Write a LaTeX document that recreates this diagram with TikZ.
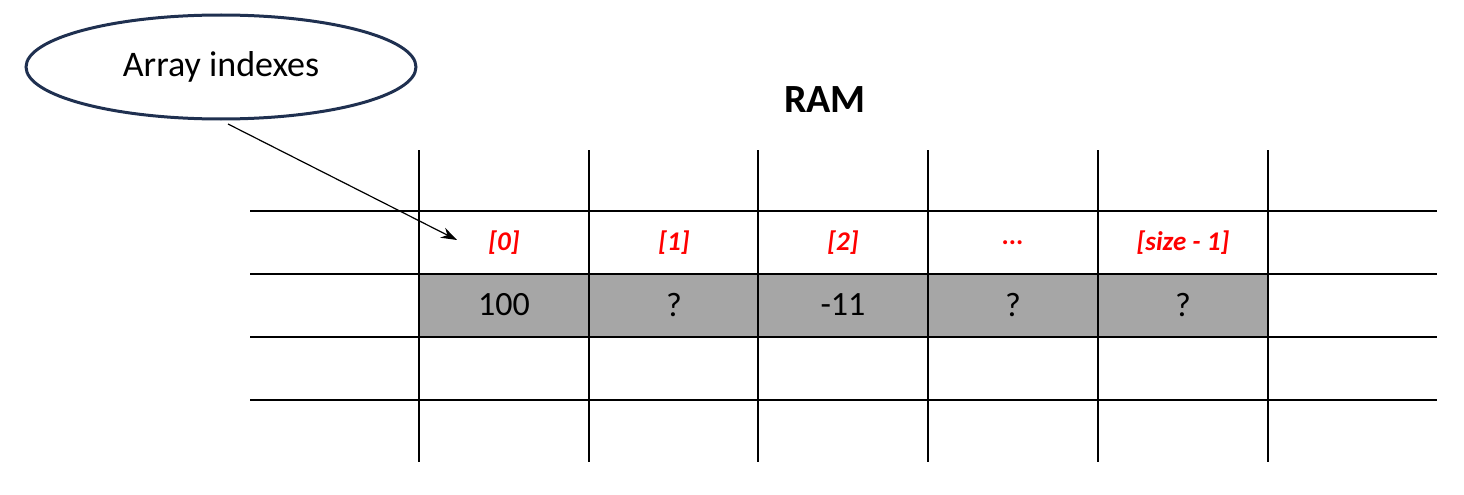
\documentclass[tikz,border=0pt]{standalone}
\usepackage{fontspec}
\setmainfont{Carlito}
\usetikzlibrary{shapes.geometric,arrows.meta}
\definecolor{navy}{HTML}{1F3050}
\definecolor{cellgrey}{HTML}{A6A6A6}
\begin{document}
\begin{tikzpicture}[x=1pt,y=-1pt,
  gridline/.style={black,line width=1.3pt},
  idx/.style={text=red,font=\fontsize{27}{30}\selectfont\bfseries\itshape},
  val/.style={font=\fontsize{34}{38}\selectfont}]
\useasboundingbox (0,0) rectangle (1464,495);
\fill[cellgrey] (419,274) rectangle (1268,337);
\foreach \x in {419,589,758,928,1098,1268} \draw[gridline] (\x,150) -- (\x,462);
\foreach \y in {211,274,337,400} \draw[gridline] (250,\y) -- (1437,\y);
\node[font=\fontsize{40}{44}\selectfont\bfseries] (ram) at (825,100) {RAM};
\node[idx] (i0) at (504,243) {[0]};
\node[idx] (i1) at (674,243) {[1]};
\node[idx] (i2) at (843,243) {[2]};
\node[idx] (i3) at (1013,243) {...};
\node[idx] (i4) at (1183,243) {[size - 1]};
\node[val] (v0) at (504,305) {100};
\node[val] (v1) at (674,305) {?};
\node[val] (v2) at (843,305) {-11};
\node[val] (v3) at (1013,305) {?};
\node[val] (v4) at (1183,305) {?};
\node[ellipse,draw=navy,line width=3pt,minimum width=390pt,minimum height=104pt,inner sep=0pt,
  font=\fontsize{36}{40}\selectfont] (ell) at (221,67) {Array indexes};
\coordinate (tip) at (457,240);
\draw[line width=1.2pt,-{Stealth[length=16pt,width=11pt]}] (228,124) -- (tip);
\end{tikzpicture}
\end{document}
